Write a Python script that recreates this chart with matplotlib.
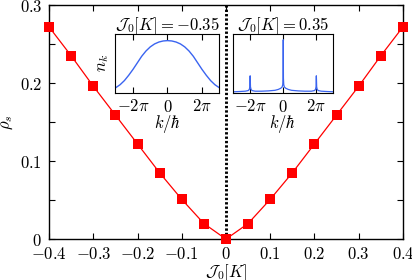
import numpy as np
import matplotlib
matplotlib.use('Agg')
import matplotlib.pyplot as plt

plt.rcParams['mathtext.fontset'] = 'cm'
plt.rcParams['font.family'] = ['serif']
plt.rcParams['font.serif'] = ['cmr10', 'DejaVu Serif']
plt.rcParams['axes.unicode_minus'] = False

# main curve: superfluid density vs J0
J0 = [-0.4, -0.35, -0.3, -0.25, -0.2, -0.15, -0.1, -0.05, 0.0,
      0.05, 0.1, 0.15, 0.2, 0.25, 0.3, 0.35, 0.4]
rho_s = [0.272, 0.235, 0.196, 0.159, 0.122, 0.085, 0.051, 0.020, 0.0,
         0.020, 0.051, 0.085, 0.122, 0.159, 0.196, 0.235, 0.272]

x_ticks = [-0.4, -0.3, -0.2, -0.1, 0.0, 0.1, 0.2, 0.3, 0.4]
x_labels = ['$-0.4$', '$-0.3$', '$-0.2$', '$-0.1$', '$0$', '$0.1$', '$0.2$', '$0.3$', '$0.4$']
y_ticks = [0.0, 0.1, 0.2, 0.3]
y_labels = ['$0$', '$0.1$', '$0.2$', '$0.3$']

# inset 1: J0 = -0.35, broad momentum distribution (k in units of pi)
k_left = [-3.0, -2.75, -2.5, -2.25, -2.0, -1.75, -1.5, -1.25, -1.0, -0.75, -0.5, -0.25, 0.0,
          0.25, 0.5, 0.75, 1.0, 1.25, 1.5, 1.75, 2.0, 2.25, 2.5, 2.75, 3.0]
n_left = [0.09, 0.14, 0.21, 0.30, 0.40, 0.51, 0.62, 0.71, 0.78, 0.83, 0.862, 0.88, 0.886,
          0.88, 0.862, 0.83, 0.78, 0.71, 0.62, 0.51, 0.40, 0.30, 0.21, 0.14, 0.09]

# inset 2: J0 = 0.35, sharp peaks at k = 0, +-2pi
k_right = [-3.0, -2.6, -2.3, -2.12, -2.05, -2.02, -2.0, -1.98, -1.95, -1.88, -1.7, -1.3,
           -0.9, -0.5, -0.3, -0.15, -0.07, -0.03, -0.01, 0.0,
           0.01, 0.03, 0.07, 0.15, 0.3, 0.5, 0.9, 1.3, 1.7, 1.88, 1.95, 1.98, 2.0,
           2.02, 2.05, 2.12, 2.3, 2.6, 3.0]
n_right = [0.02, 0.025, 0.03, 0.04, 0.06, 0.10, 0.29, 0.10, 0.06, 0.04, 0.03, 0.03,
           0.035, 0.045, 0.06, 0.08, 0.10, 0.14, 0.25, 0.90,
           0.25, 0.14, 0.10, 0.08, 0.06, 0.045, 0.035, 0.03, 0.03, 0.04, 0.06, 0.10, 0.29,
           0.10, 0.06, 0.04, 0.03, 0.025, 0.02]

inset_ticks = [-2, 0, 2]
inset_labels = [r'$-2\pi$', '$0$', r'$2\pi$']

fs = 12

fig = plt.figure(figsize=(4.12, 2.80), dpi=100)
ax = fig.add_axes([0.119, 0.146, 0.859, 0.836])

ax.axvline(0, color='black', linestyle=(0, (0.8, 0.7)), linewidth=2.1, zorder=1)
ax.plot(J0, rho_s, color='#ff0000', linewidth=0.9, marker='s', markersize=6.5,
        markeredgewidth=0, clip_on=False, zorder=3)

ax.set_xlim(-0.4, 0.4)
ax.set_ylim(0, 0.3)
ax.set_xticks(x_ticks)
ax.set_xticklabels(x_labels)
ax.set_yticks(y_ticks)
ax.set_yticklabels(y_labels)
ax.set_yticks([0.05, 0.15, 0.25], minor=True)
ax.tick_params(which='both', direction='in', top=True, right=True, labelsize=fs,
               length=4, width=0.8)
ax.tick_params(axis='x', pad=5)
ax.tick_params(axis='y', pad=5)
for s in ax.spines.values():
    s.set_linewidth(1.0)
ax.set_xlabel(r'$\mathcal{J}_0[K]$', fontsize=fs, labelpad=0)
ax.set_ylabel(r'$\rho_s$', fontsize=fs, labelpad=3)

blue = '#3a64f0'

ax1 = fig.add_axes([0.279, 0.668, 0.253, 0.211])
ax1.plot(k_left, n_left, color=blue, linewidth=1.0)
ax1.set_xlim(-3.05, 3.0)
ax1.set_ylim(0, 1)
ax1.set_xticks(inset_ticks)
ax1.set_xticklabels(inset_labels)
ax1.set_yticks([])
ax1.tick_params(direction='in', top=True, labelsize=fs, length=4, width=0.8, pad=4)
ax1.set_xlabel(r'$k/\hbar$', fontsize=fs, labelpad=-1)
ax1.set_ylabel(r'$n_k$', fontsize=fs, labelpad=3)
ax1.set_title(r'$\mathcal{J}_0[K] = -0.35$', fontsize=fs, pad=3)

ax2 = fig.add_axes([0.565, 0.668, 0.243, 0.211])
ax2.plot(k_right, n_right, color=blue, linewidth=0.9)
ax2.set_xlim(-3.05, 3.0)
ax2.set_ylim(0, 1)
ax2.set_xticks(inset_ticks)
ax2.set_xticklabels(inset_labels)
ax2.set_yticks([])
ax2.tick_params(direction='in', top=True, labelsize=fs, length=4, width=0.8, pad=4)
ax2.set_xlabel(r'$k/\hbar$', fontsize=fs, labelpad=-1)
ax2.set_title(r'$\mathcal{J}_0[K] = 0.35$', fontsize=fs, pad=3)

fig.savefig('out.png', dpi=100)
